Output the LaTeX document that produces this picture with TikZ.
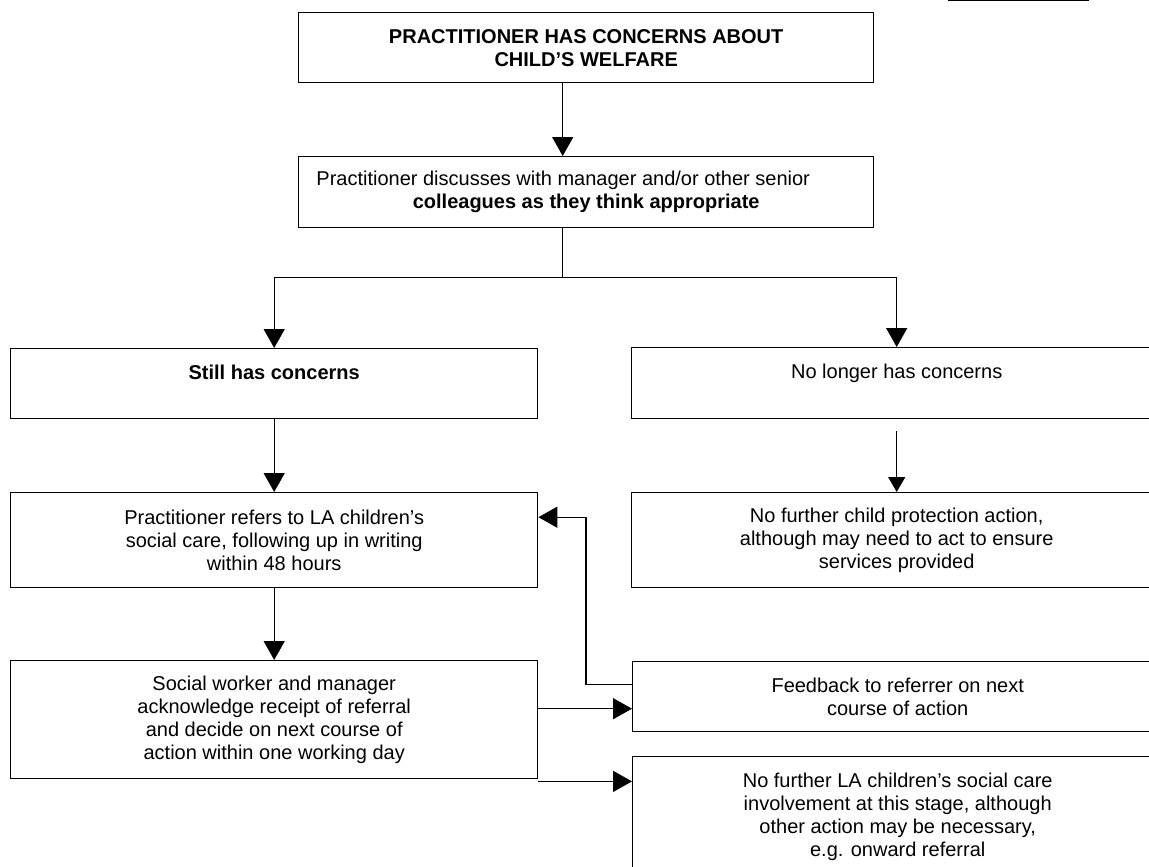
\documentclass[tikz,border=0pt]{standalone}
\usepackage{fontspec}
\setmainfont{Liberation Sans}
\usetikzlibrary{arrows.meta}
\begin{document}
\begin{tikzpicture}[x=1pt, y=-1pt, line width=1.4pt,
  box/.style={draw, anchor=north west, align=center, inner sep=0pt, font=\fontsize{20}{23}\selectfont},
  flow/.style={-{Triangle[length=19pt, width=21pt]}},
  flowsmall/.style={-{Triangle[length=15pt, width=17pt]}}]
  \useasboundingbox (0,0) rectangle (1149,867);
  \clip (0,0) rectangle (1149,867);
  \draw[line width=1pt] (948,1) -- (1089,1);
  \node[box, minimum width=575pt, minimum height=70pt] (concern) at (298,12) {\textbf{PRACTITIONER HAS CONCERNS ABOUT}\\\textbf{CHILD’S WELFARE}};
  \node[box, minimum width=575pt, minimum height=71pt] (discuss) at (298,156) {Practitioner discusses with manager and/or other senior\hspace*{46pt}\\\textbf{colleagues as they think appropriate}};
  \node[box, minimum width=527pt, minimum height=70pt] (still) at (10,348) {\textbf{Still has concerns}\\~};
  \node[box, minimum width=530pt, minimum height=71pt] (nolonger) at (631,347) {No longer has concerns\\~};
  \node[box, minimum width=527pt, minimum height=95pt] (refers) at (10,492) {Practitioner refers to LA children’s\\social care, following up in writing\\within 48 hours};
  \node[box, minimum width=530pt, minimum height=95pt] (noaction) at (631,492) {No further child protection action,\\although may need to act to ensure\\services provided};
  \node[box, minimum width=527pt, minimum height=118pt] (social) at (10,660) {Social worker and manager\\acknowledge receipt of referral\\and decide on next course of\\action within one working day};
  \node[box, minimum width=530pt, minimum height=70pt] (feedback) at (632,661) {Feedback to referrer on next\\course of action};
  \node[box, minimum width=530pt, minimum height=120pt] (nola) at (632,756) {No further LA children’s social care\\involvement at this stage, although\\other action may be necessary,\\e.g. onward referral};
  % connectors
  \draw[flow] ([xshift=-23.5pt]concern.south) -- ([xshift=-23.5pt]discuss.north);
  \draw ([xshift=-23.5pt]discuss.south) -- ++(0,49) coordinate (split);
  \draw[flow] (split) -| (still.north);
  \draw[flow] (split) -| (nolonger.north);
  \draw[flow] (still.south) -- (refers.north);
  \draw[flowsmall] ([yshift=-12pt]nolonger.south) -- (noaction.north);
  \draw[flow] (refers.south) -- (social.north);
  \draw[flow] ([yshift=11pt]social.east) -- ([yshift=11pt]social.east -| feedback.west);
  \draw[flow] ([yshift=-2pt]social.south east) -- ([yshift=-2pt]social.south east -| nola.west);
  \draw[flow] ([yshift=12pt]feedback.west) -- ++(-46,0) |- ([yshift=23pt]refers.east);
\end{tikzpicture}
\end{document}
